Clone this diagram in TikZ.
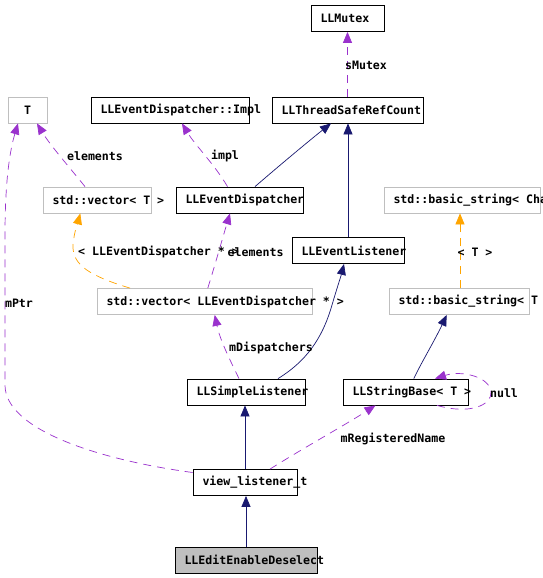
\documentclass[tikz,border=0pt]{standalone}
\usepackage{fontspec}
\newfontfamily\dxfont{DejaVu Sans Mono}
\usetikzlibrary{arrows.meta,calc}
\definecolor{dxpurple}{HTML}{9A32CD}
\definecolor{dxnavy}{HTML}{191970}
\definecolor{dxorange}{HTML}{FFA500}
\definecolor{dxgray}{HTML}{BFBFBF}
\newcommand\dxtext[2]{\makebox[#1pt][l]{\hspace{9.5pt}#2}}
\begin{document}
\begin{tikzpicture}[x=1pt,y=-1pt,
  every node/.style={font=\dxfont\bfseries\fontsize{11.6}{13}\selectfont},
  cls/.style={draw=black, line width=0.8pt, minimum height=26pt, inner sep=0pt, fill=white},
  ext/.style={cls, draw=dxgray},
  curcls/.style={cls, fill=dxgray},
  lbl/.style={inner sep=0pt},
  dxtip/.style={-{Triangle[length=11pt,width=9pt]}},
  inh/.style={dxtip, draw=dxnavy, line width=0.7pt},
  usage/.style={dxtip, draw=dxpurple, line width=0.7pt, dash pattern=on 8pt off 6pt},
  tmpl/.style={dxtip, draw=dxorange, line width=0.7pt, dash pattern=on 8pt off 6pt},
]
\fill[white] (0,0) rectangle (543,578);
\useasboundingbox (0,0) rectangle (543,578);
\clip (0,0) rectangle (543,578);

% classes
\node[cls] (mutex) at (347.5,18.5) {\dxtext{73}{LLMutex}};
\node[ext] (T) at (27.5,110) {\makebox[39pt][c]{T}};
\node[cls] (impl) at (170,110) {\dxtext{158}{LLEventDispatcher::Impl}};
\node[cls] (tsrc) at (347.5,110) {\dxtext{151}{LLThreadSafeRefCount}};
\node[ext] (vecT) at (97,200) {\dxtext{108}{std::vector< T >}};
\node[cls] (led) at (239.5,200) {\dxtext{127}{LLEventDispatcher}};
\node[ext] (bsCha) at (462,200) {\dxtext{156}{std::basic\_string< Cha}};
\node[cls] (lel) at (348,250.5) {\dxtext{112}{LLEventListener}};
\node[ext] (vecLED) at (204.5,301.5) {\dxtext{215}{std::vector< LLEventDispatcher * >}};
\node[ext] (bsT) at (459,301.5) {\dxtext{140}{std::basic\_string< T}};
\node[cls] (lsl) at (246,392) {\dxtext{118}{LLSimpleListener}};
\node[cls] (lsb) at (405.5,392) {\dxtext{125}{LLStringBase< T >}};
\node[cls] (vlt) at (245,482.5) {\dxtext{104}{view\_listener\_t}};
\node[curcls] (leed) at (246,560) {\dxtext{142}{LLEditEnableDeselect}};

% edges
\draw[usage] (tsrc.north) -- (mutex.south);
\draw[usage] ([xshift=-12pt]vecT.north) .. controls (70,168) and (50,145) .. ([xshift=9.5pt]T.south);
\draw[usage] ([yshift=10pt]vlt.west) .. controls (100,460) and (5,430) .. (5,385)
   -- (5,235) .. controls (5,180) and (10,150) .. ([xshift=-9.5pt]T.south);
\draw[usage] ([xshift=-12pt]led.north) .. controls (215,165) and (195,145) .. ([xshift=12pt]impl.south);
\draw[inh] ([xshift=15.5pt]led.north) .. controls (280,165) and (310,140) .. ([xshift=-16.5pt]tsrc.south);
\draw[inh] (lel.north) -- (lel.north |- tsrc.south);
\draw[tmpl] ([xshift=-74.5pt]vecLED.north) .. controls (90,276) and (72,265) .. (73,245)
   .. controls (74,232) and (78,222) .. ([xshift=-16.7pt]vecT.south);
\draw[usage] ([xshift=3.3pt]vecLED.north) .. controls (215,265) and (222,240) .. ([xshift=-9.5pt]led.south);
\draw[tmpl] ([xshift=1pt]bsT.north) -- ([xshift=1pt]bsT.north |- bsCha.south);
\draw[usage] ([xshift=-7pt]lsl.north) .. controls (230,360) and (220,340) .. ([xshift=10.2pt]vecLED.south);
\draw[inh] ([xshift=32pt]lsl.north) .. controls (305,362) and (322,340) .. (332,305)
   .. controls (337,288) and (341,276) .. ([xshift=-4pt]lel.south);
\draw[inh] ([xshift=8.3pt]lsb.north) .. controls (420,365) and (435,340) .. ([xshift=-12.3pt]bsT.south);
\draw[usage] ([xshift=31.5pt]lsb.south) .. controls (470,415) and (492,405) .. (491,392)
   .. controls (490,377) and (462,370) .. ([xshift=29.5pt]lsb.north);
\draw[inh] (vlt.north) -- (vlt.north |- lsl.south);
\draw[usage] ([xshift=25pt]vlt.north) .. controls (300,450) and (345,425) .. ([xshift=-30pt]lsb.south);
\draw[inh] (leed.north) -- (leed.north |- vlt.south);

% labels
\node[lbl] (lsMutex) at (366,65) {sMutex};
\node[lbl] (lelem1) at (95,156) {elements};
\node[lbl] (limpl) at (225,156) {impl};
\node[lbl] (lmPtr) at (19,303) {mPtr};
\node[lbl, anchor=west] (ltarg) at (78,252) {< LLEventDispatcher * >};
\node[lbl, anchor=west] (lelem2) at (227.5,252) {elements};
\node[lbl] (lT) at (475,252) {< T >};
\node[lbl] (lmDisp) at (271,348) {mDispatchers};
\node[lbl] (lnull) at (504,393) {null};
\node[lbl] (lmReg) at (393,439) {mRegisteredName};
\end{tikzpicture}
\end{document}
